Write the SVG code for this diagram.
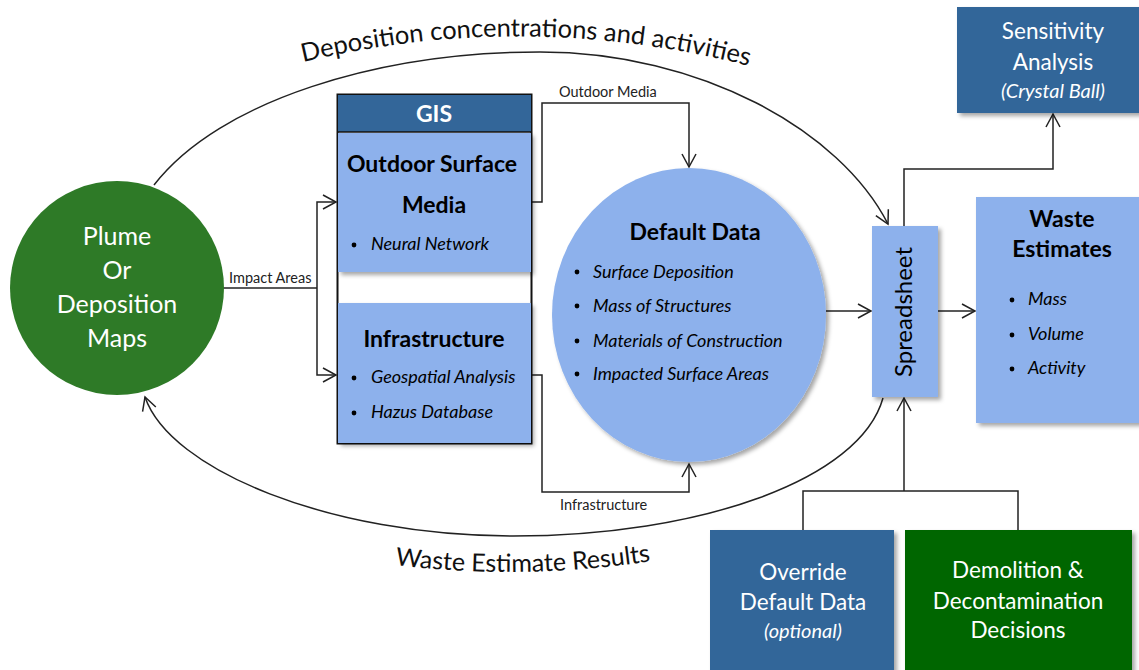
<svg xmlns="http://www.w3.org/2000/svg" width="1139" height="670" viewBox="0 0 1139 670">
<style>
text{font-family:Lato,"Liberation Sans",sans-serif;}
.con{fill:none;stroke:#222;stroke-width:1.5;}
.lb{fill:#8db1ec;}
.db{fill:#336699;}
.w{fill:#fff;}
.k{fill:#000;}
.bt{font-weight:bold;fill:#000;}
.it{font-style:italic;fill:#000;font-size:18px;}
.sm{font-size:14.5px;fill:#222;}
.mid{text-anchor:middle;}
</style>
<defs>
<marker id="ar" markerUnits="userSpaceOnUse" markerWidth="16" markerHeight="16" refX="14" refY="8" orient="auto">
<path d="M1,1 L14,8 L1,15" fill="none" stroke="#222" stroke-width="1.5"/>
</marker>
<filter id="sh" x="-10%" y="-10%" width="130%" height="130%">
<feDropShadow dx="3" dy="3" stdDeviation="2" flood-color="#000" flood-opacity="0.35"/>
</filter>
<path id="topText" d="M303,62 Q530,8 757,68"/>
<path id="botText" d="M395,565 Q527,581 659,560"/>
</defs>

<g id="connectors">
<path class="con" d="M154,185 C220,100 380,52 540,52 C700,52 840,130 888,224" marker-end="url(#ar)"/>
<path class="con" d="M883,398 C860,480 700,536 513,536 C330,536 170,470 145,397" marker-end="url(#ar)"/>
<path class="con" d="M222,288 H317"/>
<path class="con" d="M317,288 V202 H336" marker-end="url(#ar)"/>
<path class="con" d="M317,288 V375 H336" marker-end="url(#ar)"/>
<path class="con" d="M532,202 H542 V103 H689 V167" marker-end="url(#ar)"/>
<path class="con" d="M532,375 H542 V492 H689 V464" marker-end="url(#ar)"/>
<path class="con" d="M826,311 H871" marker-end="url(#ar)"/>
<path class="con" d="M938,311 H975" marker-end="url(#ar)"/>
<path class="con" d="M904,226 V169 H1053 V114" marker-end="url(#ar)"/>
<path class="con" d="M803,530 V491 H1018 V530"/>
<path class="con" d="M904,491 V398" marker-end="url(#ar)"/>
<text class="sm" x="229" y="283">Impact Areas</text>
<text class="sm" x="559" y="97">Outdoor Media</text>
<text class="sm" x="560" y="510">Infrastructure</text>
<text font-size="25.5" fill="#111"><textPath href="#topText">Deposition concentrations and activities</textPath></text>
<text font-size="25" fill="#111"><textPath href="#botText">Waste Estimate Results</textPath></text>
</g>

<g id="plume">
<circle cx="117" cy="288" r="107" fill="#2e7a27"/>
<g class="w mid" font-size="25">
<text x="117" y="245" fill="#fff">Plume</text>
<text x="117" y="279" fill="#fff">Or</text>
<text x="117" y="313" fill="#fff">Deposition</text>
<text x="117" y="347" fill="#fff">Maps</text>
</g>
</g>

<g id="gis">
<rect x="337.5" y="94.5" width="194" height="349" fill="#fff" stroke="#111" stroke-width="2"/>
<rect x="338" y="95" width="193" height="37" class="db"/>
<line x1="338" y1="132" x2="531" y2="132" stroke="#111" stroke-width="1.5"/>
<text x="434" y="122" class="mid" font-size="23" font-weight="bold" fill="#fff">GIS</text>
<g id="outdoor-surface-media">
<rect x="338" y="133" width="193" height="139" class="lb" filter="url(#sh)"/>
<text x="432" y="172" class="bt mid" font-size="23">Outdoor Surface</text>
<text x="434" y="213" class="bt mid" font-size="23">Media</text>
<circle cx="354" cy="245" r="2.4" class="k"/>
<text x="371" y="250" class="it">Neural Network</text>
</g>
<g id="infrastructure">
<rect x="338" y="303" width="193" height="140" class="lb" filter="url(#sh)"/>
<text x="434" y="347" class="bt mid" font-size="23">Infrastructure</text>
<circle cx="354" cy="378" r="2.4" class="k"/>
<text x="371" y="383" class="it">Geospatial Analysis</text>
<circle cx="354" cy="413" r="2.4" class="k"/>
<text x="371" y="418" class="it">Hazus Database</text>
</g>
</g>

<g id="default-data">
<ellipse cx="689" cy="315" rx="137" ry="147" class="lb" filter="url(#sh)"/>
<text x="695" y="240" class="bt mid" font-size="23">Default Data</text>
<circle cx="577" cy="272" r="2.4" class="k"/>
<text x="593" y="278" class="it">Surface Deposition</text>
<circle cx="577" cy="306" r="2.4" class="k"/>
<text x="593" y="312" class="it">Mass of Structures</text>
<circle cx="577" cy="341" r="2.4" class="k"/>
<text x="593" y="347" class="it">Materials of Construction</text>
<circle cx="577" cy="374" r="2.4" class="k"/>
<text x="593" y="380" class="it">Impacted Surface Areas</text>
</g>

<g id="spreadsheet">
<rect x="872" y="226" width="66" height="171" class="lb" filter="url(#sh)"/>
<text transform="translate(912,312) rotate(-90)" class="mid" font-size="24" fill="#000">Spreadsheet</text>
</g>

<g id="waste-estimates">
<rect x="976" y="197" width="170" height="226" class="lb" filter="url(#sh)"/>
<text x="1062" y="227" class="bt mid" font-size="23">Waste</text>
<text x="1062" y="257" class="bt mid" font-size="23">Estimates</text>
<circle cx="1012" cy="300" r="2.4" class="k"/>
<text x="1028" y="305" class="it">Mass</text>
<circle cx="1012" cy="335" r="2.4" class="k"/>
<text x="1028" y="340" class="it">Volume</text>
<circle cx="1012" cy="369" r="2.4" class="k"/>
<text x="1028" y="374" class="it">Activity</text>
</g>

<g id="sensitivity-analysis">
<rect x="957" y="7" width="190" height="106" class="db" filter="url(#sh)"/>
<text x="1053" y="39" class="mid" font-size="22.5" fill="#fff">Sensitivity</text>
<text x="1053" y="70" class="mid" font-size="22.5" fill="#fff">Analysis</text>
<text x="1053" y="98" class="mid" font-size="20" font-style="italic" fill="#fff">(Crystal Ball)</text>
</g>

<g id="override-default-data">
<rect x="710" y="530" width="184" height="150" class="db" filter="url(#sh)"/>
<text x="803" y="580" class="mid" font-size="22.5" fill="#fff">Override</text>
<text x="803" y="610" class="mid" font-size="22.5" fill="#fff">Default Data</text>
<text x="803" y="638" class="mid" font-size="20" font-style="italic" fill="#fff">(optional)</text>
</g>

<g id="demolition-decontamination">
<rect x="905" y="530" width="227" height="150" fill="#006600" filter="url(#sh)"/>
<text x="1018" y="578" class="mid" font-size="22.5" fill="#fff">Demolition &amp;</text>
<text x="1018" y="609" class="mid" font-size="22.5" fill="#fff">Decontamination</text>
<text x="1018" y="638" class="mid" font-size="22.5" fill="#fff">Decisions</text>
</g>
</svg>
